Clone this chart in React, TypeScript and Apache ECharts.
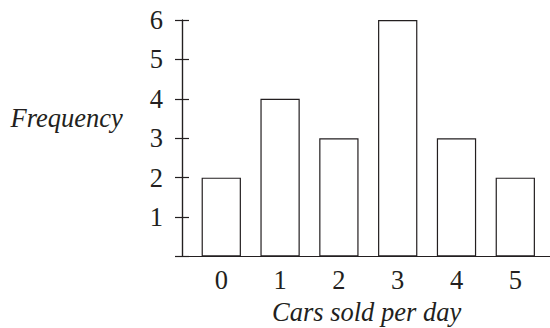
import React, { useEffect, useRef } from "react";
import * as echarts from "echarts";

const categories = [0, 1, 2, 3, 4, 5];
const frequencies = [2, 4, 3, 6, 3, 2];
const yTicks = [0, 1, 2, 3, 4, 5, 6];
const xTitle = "Cars sold per day";
const yTitle = "Frequency";

const INK = "#231f20";
const FONT = '"Times New Roman", Times, "Liberation Serif", serif';
const FS = 26.5;

export default function App() {
  const ref = useRef<HTMLDivElement>(null);
  useEffect(() => {
    if (!ref.current) return;
    const chart = echarts.init(ref.current, undefined, { renderer: "svg" });
    const yAxisBase = {
      type: "value" as const,
      min: yTicks[0],
      max: yTicks[yTicks.length - 1],
      interval: 1,
      splitLine: { show: false },
      axisLine: { show: true, onZero: false, lineStyle: { color: INK, width: 1.2 } },
    };
    chart.setOption({
      animation: false,
      backgroundColor: "#ffffff",
      grid: { left: 182, right: 0, top: 20, bottom: 71.5 },
      xAxis: {
        type: "value",
        min: -0.668,
        max: 5.59,
        splitNumber: 6,
        splitLine: { show: false },
        axisTick: { show: false },
        axisLine: { show: true, onZero: false, lineStyle: { color: INK, width: 1.2 } },
        axisLabel: {
          fontFamily: FONT,
          fontSize: FS,
          color: INK,
          margin: 10,
          showMinLabel: false,
          showMaxLabel: false,
          formatter: (v: number) => {
            const r = Math.round(v);
            return Math.abs(v - r) < 1e-6 && categories.includes(r) ? String(r) : "";
          },
        },
      },
      yAxis: [
        {
          ...yAxisBase,
          axisTick: { show: true, length: 7, lineStyle: { color: INK, width: 1.2 } },
          axisLabel: {
            fontFamily: FONT,
            fontSize: FS,
            color: INK,
            margin: 19,
            formatter: (v: number) => (v === 0 ? "" : String(v)),
          },
        },
        {
          ...yAxisBase,
          position: "left",
          axisTick: { show: true, inside: true, length: 7, lineStyle: { color: INK, width: 1.2 } },
          axisLabel: { show: false },
        },
      ],
      series: [
        {
          type: "bar",
          yAxisIndex: 0,
          barWidth: 39.3,
          data: categories.map((c, i) => [c, frequencies[i]]),
          itemStyle: { color: "#ffffff", borderColor: INK, borderWidth: 1.2 },
        },
      ],
      graphic: [
        {
          type: "text",
          x: 10.5,
          y: 104,
          style: {
            text: yTitle,
            font: `italic ${FS}px ${FONT}`,
            fill: INK,
            verticalAlign: "top",
          },
        },
        {
          type: "text",
          x: 272,
          y: 298,
          style: {
            text: xTitle,
            font: `italic ${FS}px ${FONT}`,
            fill: INK,
            verticalAlign: "top",
          },
        },
      ],
    });
    return () => chart.dispose();
  }, []);
  return (
    <div
      ref={ref}
      style={{ position: "absolute", left: 0, top: 0, width: 550, height: 328 }}
    />
  );
}
